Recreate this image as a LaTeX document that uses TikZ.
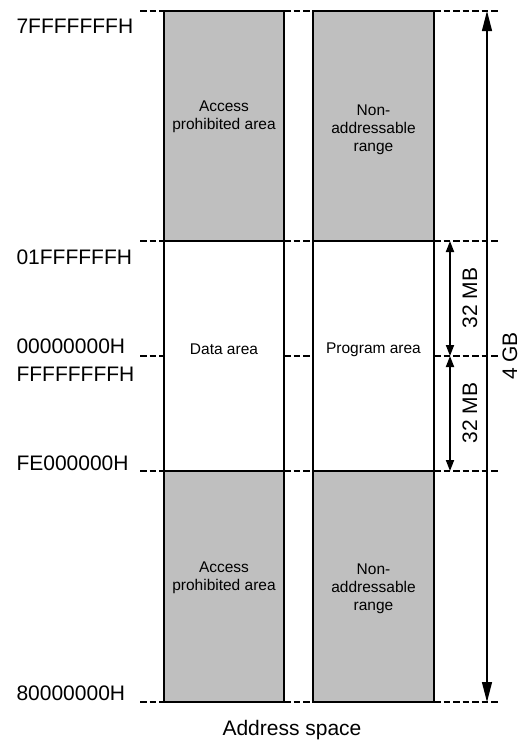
\documentclass[tikz,border=0pt]{standalone}
\usepackage{fontspec}
\setmainfont{Liberation Sans}
\usetikzlibrary{positioning, arrows.meta, calc}

\begin{document}
\begin{tikzpicture}[
    x=1pt, y=-1pt, % one unit per pixel, y runs downwards
    region/.style={draw, minimum width=120pt, inner sep=0pt},
    banned/.style={region, fill=black!25},
    areatext/.style={align=center, font=\fontsize{15.5}{18}\selectfont},
    addr/.style={anchor=west, font=\fontsize{21}{25}\selectfont},
    span/.style={rotate=90, inner sep=0.5pt, font=\fontsize{21}{25}\selectfont},
    level/.style={line width=2.2pt, dash pattern=on 6.5pt off 3pt},
    bigtip/.style={{Triangle[length=20pt,width=10pt]}-{Triangle[length=20pt,width=10pt]}},
    smalltip/.style={{Triangle[length=11pt,width=8pt]}-{Triangle[length=11pt,width=8pt]}}
]
    \useasboundingbox (0,0) rectangle (523,740);

    % left column
    \node (data)   [region, line width=1.6pt, minimum height=230pt] at (224,356) {};
    \node (uproh)  [banned, line width=1.6pt, minimum height=230pt] at (224,126) {};
    \node (loproh) [banned, line width=1.6pt, minimum height=231pt] at (224,586.5) {};

    % right column
    \node (prog)   [region, line width=1.2pt, minimum width=121pt, minimum height=230pt] at (373.5,356) {};
    \node (upnon)  [banned, line width=1.2pt, minimum width=121pt, minimum height=230pt] at (373.5,126) {};
    \node (lonon)  [banned, line width=1.2pt, minimum width=121pt, minimum height=231pt] at (373.5,586.5) {};

    % texts inside
    \node (uproh-txt)  [areatext] at (224,117) {Access\\prohibited area};
    \node (upnon-txt)  [areatext] at (373.5,130) {Non-\\addressable\\range};
    \node (data-txt)   [areatext] at (224,349) {Data area};
    \node (prog-txt)   [areatext] at (373.5,350) {Program area};
    \node (loproh-txt) [areatext] at (224,578) {Access\\prohibited area};
    \node (lonon-txt)  [areatext] at (373.5,589) {Non-\\addressable\\range};

    % dashed boundaries
    \foreach \y in {11,241,356,471,702} {
        \draw[level] (140,\y) -- (164,\y) (284,\y) -- (313,\y) (434,\y) -- (498,\y);
    }

    % addresses
    \node (a7f) [addr] at (13,26)  {7FFFFFFFH};
    \node (a01) [addr] at (13,257) {01FFFFFFH};
    \node (a00) [addr] at (13,346) {00000000H};
    \node (aff) [addr] at (13,374) {FFFFFFFFH};
    \node (afe) [addr] at (13,463) {FE000000H};
    \node (a80) [addr] at (13,693) {80000000H};

    % sizes
    \coordinate (gtop) at (487,11);
    \coordinate (gbot) at (487,702);
    \coordinate (mtop) at (450,241);
    \coordinate (mmid) at (450,356);
    \coordinate (mbot) at (450,471);
    \draw[bigtip, line width=1.2pt] (gtop) -- (gbot);
    \draw[smalltip, line width=1.8pt] (mtop) -- (mmid);
    \draw[smalltip, line width=1.8pt] (mmid) -- (mbot);
    \node (mb1) [span] at (470,298) {32 MB};
    \node (mb2) [span] at (470,413) {32 MB};
    \node (gb)  [span] at (510,356) {4 GB};

    \node (title) [anchor=base, font=\fontsize{21}{25}\selectfont] at (292,735) {Address space};
\end{tikzpicture}
\end{document}
